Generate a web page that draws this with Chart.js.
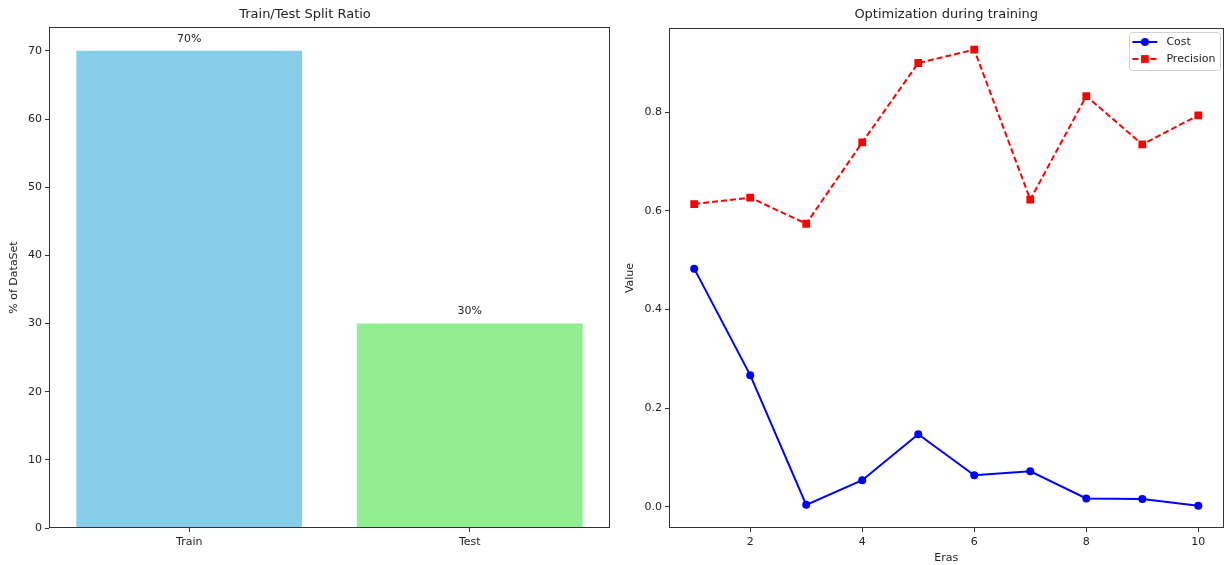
<!DOCTYPE html>
<html>
<head>
<meta charset="utf-8">
<script src="https://cdn.jsdelivr.net/npm/chart.js@4/dist/chart.umd.min.js"></script>
<style>
  html, body { margin: 0; padding: 0; background: #fff; }
  #wrap { position: relative; width: 1229px; height: 565px; }
  .panel { position: absolute; top: 0; height: 565px; }
  #leftPanel { left: 0; width: 620px; }
  #rightPanel { left: 620px; width: 609px; }
</style>
</head>
<body>
<div id="wrap">
  <div class="panel" id="leftPanel"><canvas id="splitChart"></canvas></div>
  <div class="panel" id="rightPanel"><canvas id="trainChart"></canvas></div>
</div>
<script>
// ---- data ----
const splitLabels = ['Train', 'Test'];
const splitShares = [70, 30];
const splitTicks = [0, 10, 20, 30, 40, 50, 60, 70];

const eras = [1, 2, 3, 4, 5, 6, 7, 8, 9, 10];
const costValues = [0.483, 0.267, 0.004, 0.054, 0.147, 0.064, 0.072, 0.017, 0.016, 0.002];
const precisionValues = [0.614, 0.627, 0.574, 0.739, 0.900, 0.927, 0.623, 0.833, 0.735, 0.794];
const eraTicks = [2, 4, 6, 8, 10];
const valueTicks = [0.0, 0.2, 0.4, 0.6, 0.8];

// ---- shared styling ----
const FONT = 'DejaVu Sans';
Chart.defaults.font.family = FONT;
Chart.defaults.font.size = 11;
Chart.defaults.color = '#222';

const tickFont = { family: FONT, size: 11 };
const titleFont = { family: FONT, size: 13, weight: 'normal' };

function fixedTicks(values) {
  return function (scale) {
    scale.ticks = values.map(v => ({ value: v }));
  };
}
function axisGrid() {
  return { display: true, drawOnChartArea: false, drawTicks: true, tickLength: 4, tickColor: '#333', tickWidth: 1 };
}

// full rectangular frame around the plotting area
const framePlugin = {
  id: 'frame',
  afterDatasetsDraw(chart) {
    const { ctx, chartArea: a } = chart;
    ctx.save();
    ctx.strokeStyle = '#333';
    ctx.lineWidth = 1;
    ctx.strokeRect(Math.round(a.left) + 0.5, Math.round(a.top) + 0.5,
                   Math.round(a.right - a.left) - 1, Math.round(a.bottom - a.top) - 1);
    ctx.restore();
  }
};

// percentage labels above each bar
const barLabelPlugin = {
  id: 'barLabels',
  afterDatasetsDraw(chart) {
    const { ctx } = chart;
    const ds = chart.data.datasets[0];
    const meta = chart.getDatasetMeta(0);
    ctx.save();
    ctx.font = `11px "${FONT}"`;
    ctx.fillStyle = '#222';
    ctx.textAlign = 'center';
    ctx.textBaseline = 'middle';
    meta.data.forEach((bar, i) => {
      ctx.fillText(ds.data[i] + '%', bar.x, bar.y - 12);
    });
    ctx.restore();
  }
};

// legend placed inside the plot area, upper right
const innerLegendPlugin = {
  id: 'innerLegend',
  afterDraw(chart) {
    const { ctx, chartArea: a } = chart;
    const sets = chart.data.datasets;
    ctx.save();
    ctx.font = `11px "${FONT}"`;
    const textW = Math.max(...sets.map(d => ctx.measureText(d.label).width));
    const handle = 25, padL = 3, padR = 5, gap = 9, rowH = 17;
    const w = padL + handle + gap + textW + padR;
    const h = 38;
    const x0 = a.right - 3 - w;
    const y0 = a.top + 4;
    ctx.fillStyle = 'rgba(255,255,255,0.85)';
    ctx.strokeStyle = '#d0d0d0';
    ctx.lineWidth = 1;
    ctx.beginPath();
    ctx.roundRect(Math.round(x0) + 0.5, Math.round(y0) + 0.5, Math.round(w), h, 3);
    ctx.fill();
    ctx.stroke();
    sets.forEach((d, i) => {
      const cy = y0 + 10 + rowH * i;
      const hx = x0 + padL;
      ctx.strokeStyle = d.borderColor;
      ctx.lineWidth = d.borderWidth;
      ctx.setLineDash(d.borderDash || []);
      ctx.beginPath();
      ctx.moveTo(hx, cy);
      ctx.lineTo(hx + handle, cy);
      ctx.stroke();
      ctx.setLineDash([]);
      ctx.fillStyle = d.pointBackgroundColor;
      Chart.helpers.drawPoint(ctx, { pointStyle: d.pointStyle, radius: d.pointRadius, borderWidth: 0 }, hx + handle / 2, cy);
      ctx.fillStyle = '#222';
      ctx.textAlign = 'left';
      ctx.textBaseline = 'middle';
      ctx.fillText(d.label, hx + handle + gap, cy);
    });
    ctx.restore();
  }
};

// ---- left: train/test split ----
new Chart(document.getElementById('splitChart'), {
  type: 'bar',
  data: {
    labels: splitLabels,
    datasets: [{
      data: splitShares,
      backgroundColor: ['#87CEEB', '#90EE90'],
      borderWidth: 0,
      barPercentage: 0.805,
      categoryPercentage: 1.0
    }]
  },
  options: {
    responsive: true,
    maintainAspectRatio: false,
    animation: false,
    layout: { padding: { left: 0, right: 10, top: 0, bottom: 0 } },
    plugins: {
      legend: { display: false },
      tooltip: { enabled: false },
      title: {
        display: true,
        text: 'Train/Test Split Ratio',
        font: titleFont,
        color: '#222',
        padding: { top: 7, bottom: 4.4 }
      }
    },
    scales: {
      x: {
        type: 'category',
        offset: true,
        grid: Object.assign(axisGrid(), { offset: false }),
        border: { display: false },
        ticks: { font: tickFont, color: '#222', padding: 4 },
        afterFit(scale) { scale.height = 37; }
      },
      y: {
        min: 0,
        max: 73.5,
        grid: axisGrid(),
        border: { display: false },
        ticks: { font: tickFont, color: '#222', padding: 3 },
        afterBuildTicks: fixedTicks(splitTicks),
        title: { display: true, text: '% of DataSet', font: tickFont, color: '#222', padding: { top: 8, bottom: 0 } },
        afterFit(scale) { scale.width = 49; }
      }
    }
  },
  plugins: [framePlugin, barLabelPlugin]
});

// ---- right: optimisation curves ----
new Chart(document.getElementById('trainChart'), {
  type: 'line',
  data: {
    datasets: [
      {
        label: 'Cost',
        data: eras.map((e, i) => ({ x: e, y: costValues[i] })),
        borderColor: '#0000ff',
        backgroundColor: '#0000ff',
        pointBackgroundColor: '#0000ff',
        pointBorderWidth: 0,
        borderWidth: 2,
        pointStyle: 'circle',
        pointRadius: 4,
        tension: 0
      },
      {
        label: 'Precision',
        data: eras.map((e, i) => ({ x: e, y: precisionValues[i] })),
        borderColor: '#ff0000',
        backgroundColor: '#ff0000',
        pointBackgroundColor: '#ff0000',
        pointBorderWidth: 0,
        borderWidth: 2,
        borderDash: [6, 3],
        pointStyle: 'rect',
        pointRadius: 5.5,
        tension: 0
      }
    ]
  },
  options: {
    responsive: true,
    maintainAspectRatio: false,
    animation: false,
    layout: { padding: { left: 0, right: 3, top: 0, bottom: 0 } },
    plugins: {
      legend: { display: false },
      tooltip: { enabled: false },
      title: {
        display: true,
        fullSize: false,
        text: 'Optimization during training',
        font: titleFont,
        color: '#222',
        padding: { top: 7, bottom: 5.4 }
      }
    },
    scales: {
      x: {
        type: 'linear',
        min: 0.55,
        max: 10.45,
        grid: axisGrid(),
        border: { display: false },
        ticks: { font: tickFont, color: '#222', padding: 4 },
        afterBuildTicks: fixedTicks(eraTicks),
        title: { display: true, text: 'Eras', font: tickFont, color: '#222', padding: { top: 0, bottom: 0 } },
        afterFit(scale) { scale.height = 37; }
      },
      y: {
        type: 'linear',
        min: -0.043,
        max: 0.971,
        grid: axisGrid(),
        border: { display: false },
        ticks: { font: tickFont, color: '#222', padding: 3, callback: v => v.toFixed(1) },
        afterBuildTicks: fixedTicks(valueTicks),
        title: { display: true, text: 'Value', font: tickFont, color: '#222', padding: { top: 4, bottom: 0 } },
        afterFit(scale) { scale.width = 49; }
      }
    }
  },
  plugins: [framePlugin, innerLegendPlugin]
});
</script>
</body>
</html>
